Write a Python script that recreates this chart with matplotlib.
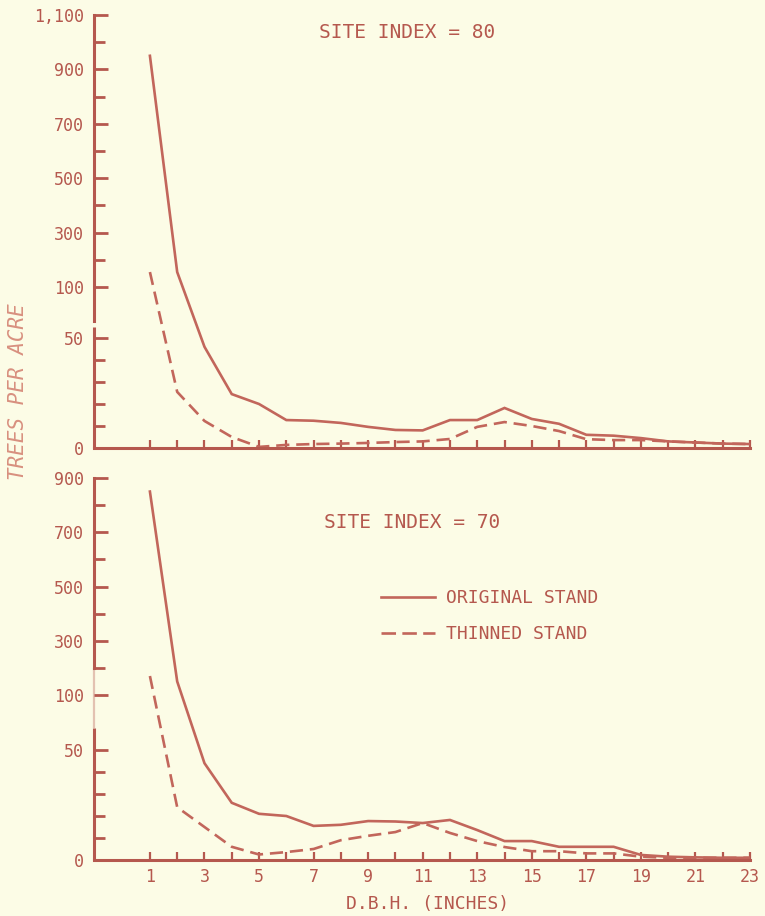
"""
Diameter distribution of trees per acre before and after thinning,
for two site indexes, on a stretched (broken) trees-per-acre scale.
"""

import numpy as np
import matplotlib
matplotlib.use("Agg")
import matplotlib.pyplot as plt
from matplotlib.lines import Line2D

# ---- data ----------------------------------------------------------------
dbh = list(range(1, 24))

orig_80 = [950, 155, 46, 24.5, 20, 12.7, 12.4, 11.4, 9.6, 8.2, 8, 12.7,
           12.7, 18.2, 13.2, 11, 6, 5.6, 4.5, 3, 2.5, 2, 1.8]
thin_80 = [155, 25.5, 12.3, 5, 0.5, 1.4, 1.8, 2, 2.3, 2.7, 3, 4.1,
           9.6, 11.8, 10, 7.7, 4, 3.6, 3.6, 3, 2.5, 2, 1.8]

orig_70 = [850, 150, 44, 26, 21, 20, 15.5, 16, 17.7, 17.5, 16.8, 18.2,
           13.6, 8.6, 8.6, 6, 6, 6, 2.3, 1.5, 1.2, 1, 1]
thin_70 = [170, 24, 15, 6, 2.5, 3.6, 5, 9, 11, 12.7, 16.8, 12.3,
           8.6, 5.9, 4, 4, 3, 3, 1.5, 1, 1, 1, 1]

yticks_80 = [0, 50, 100, 300, 500, 700, 900, 1100]
yminor_80 = [10, 20, 30, 40, 200, 400, 600, 800, 1000]
yticks_70 = [0, 50, 100, 300, 500, 700, 900]
yminor_70 = [10, 20, 30, 40, 200, 400, 600, 800]
xlabels = [1, 3, 5, 7, 9, 11, 13, 15, 17, 19, 21, 23]

# ---- style ---------------------------------------------------------------
BG = "#FCFCE6"
INK = "#B5584E"
LINE = "#C2665B"
SOFT = "#D8907F"
plt.rcParams["font.family"] = ["DejaVu Sans Mono"]

W, H = 765, 916
fig = plt.figure(figsize=(W / 100, H / 100), dpi=100, facecolor=BG)


def stretched(knots_v, knots_px):
    """Piecewise-linear value -> pixel-height mapping used as a y scale."""
    v = np.asarray(knots_v, float)
    p = np.asarray(knots_px, float)
    lo = (p[1] - p[0]) / (v[1] - v[0])
    hi = (p[-1] - p[-2]) / (v[-1] - v[-2])
    v = np.r_[v[0] - 1e4, v, v[-1] + 1e5]
    p = np.r_[p[0] - 1e4 * lo, p, p[-1] + 1e5 * hi]

    def fwd(y):
        return np.interp(y, v, p)

    def inv(y):
        return np.interp(y, p, v)

    return fwd, inv


def panel(rect, knots_px, ytop, majors, minors, orig, thin, brk, faded, show_x):
    ax = fig.add_axes(rect)
    ax.set_facecolor(BG)
    ax.set_yscale("function",
                  functions=stretched([0, 50, 100, ytop], knots_px))
    ax.set_xlim(-1.05, 23.0)
    ax.set_ylim(0, ytop)

    ax.plot(dbh, orig, color=LINE, lw=1.9, solid_joinstyle="miter")
    ax.plot(dbh, thin, color=LINE, lw=1.9, dashes=(5, 2.6))

    for side in ("top", "right"):
        ax.spines[side].set_visible(False)
    for side in ("left", "bottom"):
        ax.spines[side].set_color(INK)
        ax.spines[side].set_linewidth(2.2)

    # left axis drawn in pieces around the scale break
    x0 = ax.get_xlim()[0]
    ax.spines["left"].set_bounds(brk[1], ytop)
    ax.plot([x0, x0], [0, brk[0]], color=INK, lw=2.2, clip_on=False,
            solid_capstyle="butt")
    if faded:
        ax.plot([x0, x0], [brk[0], brk[1]], color=INK, lw=1.6, alpha=0.35,
                clip_on=False, solid_capstyle="butt")

    ax.set_yticks(majors)
    ax.set_yticklabels(["1,100" if t == 1100 else str(t) for t in majors])
    ax.set_yticks(minors, minor=True)
    ax.tick_params(axis="y", which="both", direction="in", color=INK,
                   width=2, labelcolor=INK, labelsize=12, pad=7)
    ax.tick_params(axis="y", which="major", length=10)
    ax.tick_params(axis="y", which="minor", length=8)

    ax.set_xticks(dbh)
    ax.set_xticklabels([str(d) if d in xlabels else "" for d in dbh])
    ax.tick_params(axis="x", direction="in", length=6, width=1.6, color=INK,
                   labelcolor=INK, labelsize=12, pad=6,
                   labelbottom=show_x)
    return ax


# top panel: site index 80
ax1 = panel([94 / W, 1 - 448 / H, 656 / W, 433 / H], [0, 110, 161, 433],
            1100, yticks_80, yminor_80, orig_80, thin_80,
            brk=(61, 67), faded=False, show_x=False)

# bottom panel: site index 70
ax2 = panel([94 / W, 1 - 860 / H, 656 / W, 382 / H], [0, 110, 165, 382],
            900, yticks_70, yminor_70, orig_70, thin_70,
            brk=(70, 200), faded=True, show_x=True)

fig.text(407 / W, 1 - 33 / H, "SITE INDEX = 80", color=INK, fontsize=14,
         ha="center", va="center")
fig.text(412 / W, 1 - 523 / H, "SITE INDEX = 70", color=INK, fontsize=14,
         ha="center", va="center")

fig.text(18 / W, 1 - 392 / H, "TREES PER ACRE", color=SOFT, fontsize=15,
         style="italic", rotation=90, ha="center", va="center")
fig.text(428 / W, 1 - 904 / H, "D.B.H. (INCHES)", color=INK, fontsize=13,
         ha="center", va="center")

handles = [
    Line2D([], [], color=LINE, lw=1.9),
    Line2D([], [], color=LINE, lw=1.9, dashes=(5.5, 2.4)),
]
ax2.legend(handles, ["ORIGINAL STAND", "THINNED STAND"], frameon=False,
           loc="center left", bbox_to_anchor=(381 / W, 1 - 616 / H),
           bbox_transform=fig.transFigure, fontsize=13, labelcolor=INK,
           handlelength=3.0, handletextpad=0.6, labelspacing=1.0,
           borderpad=0, borderaxespad=0)

fig.savefig("out.png", dpi=100, facecolor=BG)
